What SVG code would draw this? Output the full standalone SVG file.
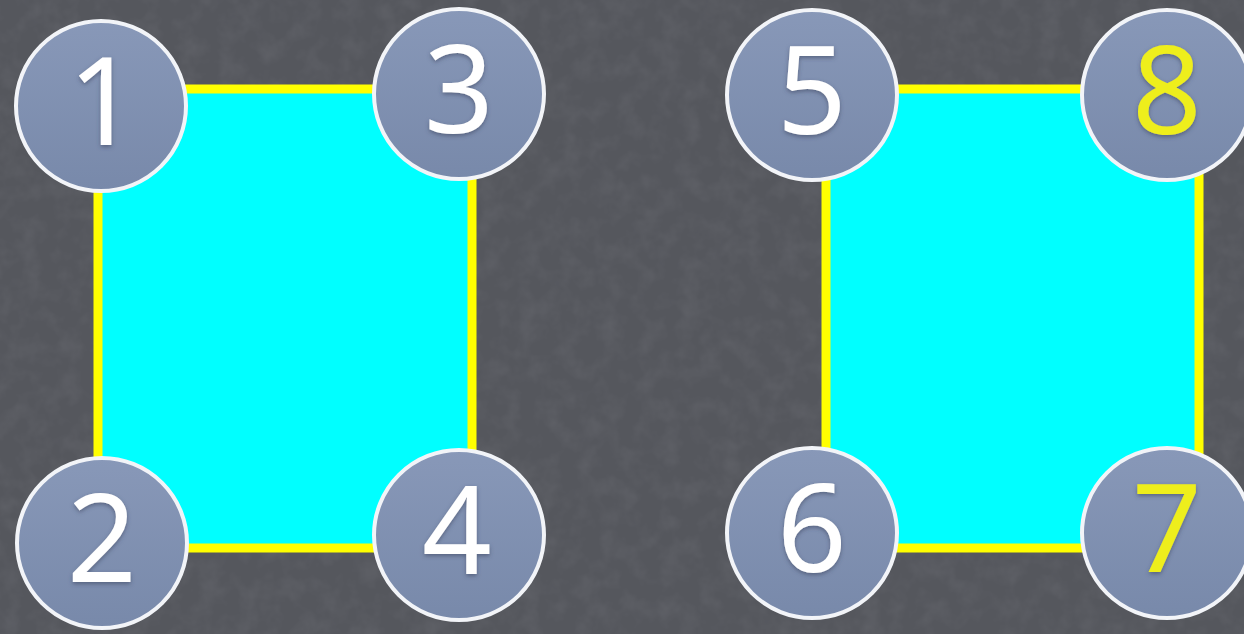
<svg xmlns="http://www.w3.org/2000/svg" width="1244" height="634" viewBox="0 0 1244 634">
  <defs>
    <style>
      .face { fill: #00ffff; }
      .edge { stroke: #ffff00; stroke-width: 9; stroke-linecap: square; fill: none; }
      .disc { fill: url(#discGrad); stroke: #f2f4f8; stroke-width: 4; }
      .num { font-family: "Noto Sans", "Open Sans", "Liberation Sans", sans-serif; font-size: 122px; font-weight: 400; text-anchor: middle; fill: #ffffff; filter: url(#txtShadow); }
      .num.hi { fill: #eeee1a; }
    </style>
    <linearGradient id="discGrad" x1="0" y1="0" x2="0" y2="1">
      <stop offset="0" stop-color="#8898b8"/>
      <stop offset="1" stop-color="#7889aa"/>
    </linearGradient>
    <filter id="noise" x="0" y="0" width="100%" height="100%">
      <feTurbulence type="fractalNoise" baseFrequency="0.05" numOctaves="3" seed="4" result="n"/>
      <feColorMatrix type="matrix" values="0 0 0 0 0.5  0 0 0 0 0.5  0 0 0 0 0.55  0 0 0 0.9 -0.35"/>
    </filter>
    <filter id="txtShadow" x="-20%" y="-20%" width="140%" height="140%">
      <feDropShadow dx="0" dy="2" stdDeviation="2" flood-color="#3a4560" flood-opacity="0.6"/>
    </filter>
  </defs>

  <g id="background">
    <rect x="0" y="0" width="1244" height="634" fill="#55575d"/>
    <rect x="0" y="0" width="1244" height="634" filter="url(#noise)" opacity="0.18"/>
  </g>

  <g id="faces">
    <rect id="face-left" class="face" x="98" y="89" width="374" height="459"/>
    <rect id="face-right" class="face" x="826" y="89" width="373" height="459"/>
  </g>

  <g id="connectors">
    <line class="edge" x1="101" y1="89" x2="459" y2="89"/>
    <line class="edge" x1="472" y1="94" x2="472" y2="535"/>
    <line class="edge" x1="459" y1="548" x2="102" y2="548"/>
    <line class="edge" x1="98" y1="543" x2="98" y2="106"/>
    <line class="edge" x1="812" y1="89" x2="1167" y2="89"/>
    <line class="edge" x1="1199" y1="95" x2="1199" y2="533"/>
    <line class="edge" x1="1167" y1="548" x2="812" y2="548"/>
    <line class="edge" x1="826" y1="533" x2="826" y2="95"/>
  </g>

  <g id="node1">
    <circle class="disc" cx="101" cy="106" r="85"/>
    <text class="num" x="103" y="145">1</text>
  </g>
  <g id="node3">
    <circle class="disc" cx="459" cy="94" r="85"/>
    <text class="num" x="459" y="133">3</text>
  </g>
  <g id="node2">
    <circle class="disc" cx="102" cy="543" r="85"/>
    <text class="num" x="102" y="582">2</text>
  </g>
  <g id="node4">
    <circle class="disc" cx="459" cy="535" r="85"/>
    <text class="num" x="457" y="574">4</text>
  </g>
  <g id="node5">
    <circle class="disc" cx="812" cy="95" r="85"/>
    <text class="num" x="812" y="134">5</text>
  </g>
  <g id="node8">
    <circle class="disc" cx="1167" cy="95" r="85"/>
    <text class="num hi" x="1167" y="134">8</text>
  </g>
  <g id="node6">
    <circle class="disc" cx="812" cy="533" r="85"/>
    <text class="num" x="812" y="572">6</text>
  </g>
  <g id="node7">
    <circle class="disc" cx="1167" cy="533" r="85"/>
    <text class="num hi" x="1167" y="572">7</text>
  </g>
</svg>
